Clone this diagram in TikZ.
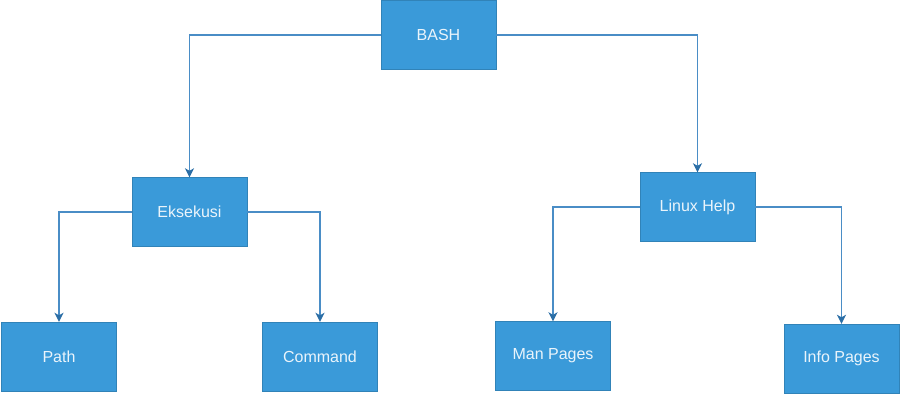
\documentclass[tikz,border=0pt]{standalone}
\usepackage{fontspec}
\setmainfont{Liberation Sans}
\usetikzlibrary{arrows.meta}
\definecolor{boxblue}{HTML}{3A9AD9}
\definecolor{lineblue}{HTML}{4A8DC6}
\definecolor{tipblue}{HTML}{2B6EA6}
\definecolor{txt}{HTML}{EAF4FB}
\tikzset{
  box/.style={rectangle, fill=boxblue, draw=boxblue!85!black, line width=0.4pt, minimum width=115pt, minimum height=69pt, inner sep=0pt, text=txt, font=\fontsize{16}{19}\selectfont},
  conn/.style={draw=lineblue, line width=1.6pt, -{Stealth[length=9pt,width=9pt,inset=2.5pt,fill=tipblue,color=tipblue]}},
}
\begin{document}
\begin{tikzpicture}[x=1pt,y=-1pt]
\useasboundingbox (0,0) rectangle (900,400);
\node[box] (bash) at (438.5,35) {BASH};
\node[box] (eks) at (189.5,212) {Eksekusi};
\node[box] (lh) at (697.5,207) {Linux Help};
\node[box] (path) at (59,356.5) {Path};
\node[box] (cmd) at (320,356.5) {Command};
\node[box] (man) at (553,356) {Man Pages};
\node[box] (info) at (841.5,358.5) {Info Pages};
\draw[conn] (bash.west) -| (eks.north);
\draw[conn] (bash.east) -| (lh.north);
\draw[conn] (eks.west) -| (path.north);
\draw[conn] (eks.east) -| (cmd.north);
\draw[conn] (lh.west) -| (man.north);
\draw[conn] (lh.east) -| (info.north);
\end{tikzpicture}
\end{document}
